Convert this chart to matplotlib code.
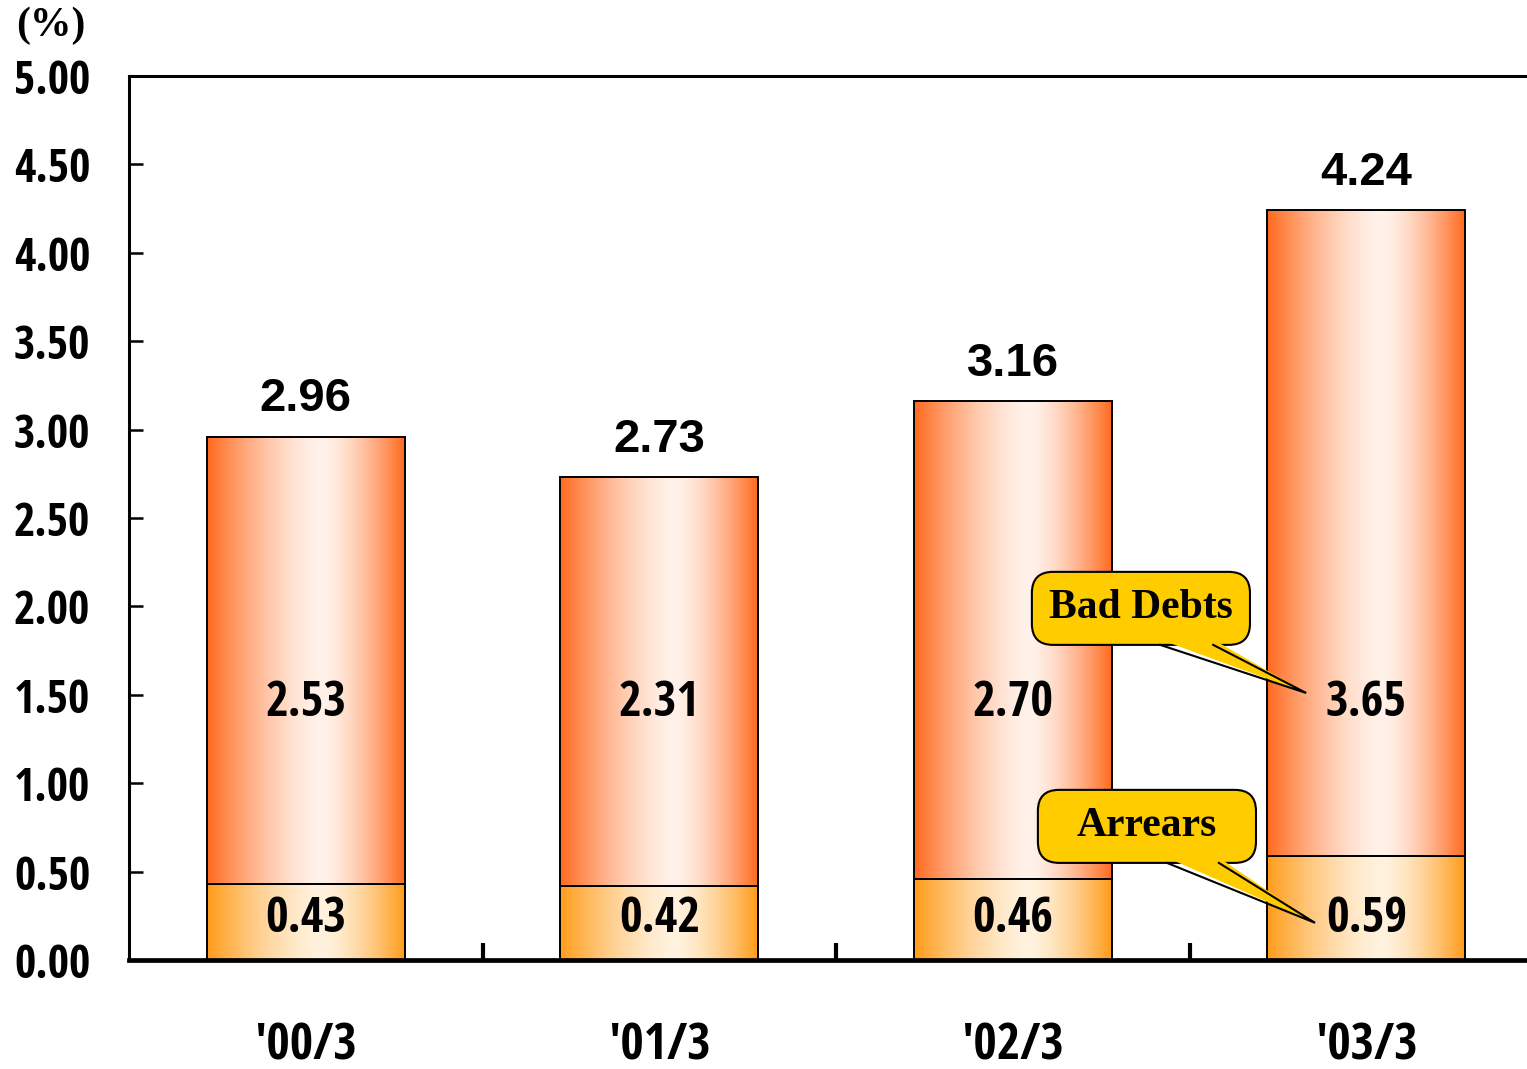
import re
import numpy as np
import matplotlib
matplotlib.use("Agg")
import matplotlib.pyplot as plt
from matplotlib import font_manager as fm
from matplotlib.textpath import TextPath
from matplotlib.patches import FancyBboxPatch, Polygon

# data
periods = ["'00/3", "'01/3", "'02/3", "'03/3"]
arrears = [0.43, 0.42, 0.46, 0.59]
bad_debts = [2.53, 2.31, 2.70, 3.65]
totals = [2.96, 2.73, 3.16, 4.24]
yticks = [0.0, 0.5, 1.0, 1.5, 2.0, 2.5, 3.0, 3.5, 4.0, 4.5, 5.0]

SAFE = re.compile(r"^(DejaVu Sans|Liberation Sans|Noto Sans|Roboto|Open Sans|Lato|Inter)"
                  r"( (Narrow|Condensed|SemiCondensed|ExtraCondensed|Cond|"
                  r"Semi Condensed|Extra Condensed))?$")


def pick_narrow_bold():
    # narrowest bold sans face among the plain families (reference: Arial Narrow Bold)
    best, best_ratio = None, None
    for f in fm.fontManager.ttflist:
        if not SAFE.match(f.name) or f.style != "normal":
            continue
        w = f.weight if isinstance(f.weight, int) else {"bold": 700}.get(f.weight, 400)
        if w < 700:
            continue
        try:
            ext = TextPath((0, 0), "2.53", prop=fm.FontProperties(fname=f.fname),
                           size=10).get_extents()
        except Exception:
            continue
        if ext.height <= 0:
            continue
        ratio = ext.width / ext.height
        if best_ratio is None or ratio < best_ratio:
            best, best_ratio = f.fname, ratio
    return best, best_ratio


narrow_file, narrow_ratio = pick_narrow_bold()
nscale = 1.0 if narrow_ratio is None else min(1.0, max(0.82, 2.1 / narrow_ratio))


def nfont(size):
    if narrow_file:
        return fm.FontProperties(fname=narrow_file, size=size * nscale)
    return fm.FontProperties(family="Liberation Sans", weight="bold", size=size * 0.82)


serif = dict(family="Liberation Serif", weight="bold")
sans = dict(family="Liberation Sans", weight="bold")


def gradient(edge, center, peak=0.58, n=256):
    t = np.linspace(0, 1, n)
    d = np.where(t < peak, (peak - t) / peak, (t - peak) / (1 - peak))
    w = 1 - d ** 1.5
    edge = np.array(matplotlib.colors.to_rgb(edge))
    center = np.array(matplotlib.colors.to_rgb(center))
    return (edge + (center - edge) * w[:, None])[None, :, :]


top_grad = gradient("#FF6A1E", "#FFF2EA")
bot_grad = gradient("#FF9C1A", "#FFF2DE")

fig = plt.figure(figsize=(15.27, 10.69), dpi=100)
ax = fig.add_axes([0.0845, 0.102, 0.926, 0.827])

x = np.arange(len(periods))
width = 0.56
for xi, a, b in zip(x, arrears, bad_debts):
    ax.imshow(bot_grad, extent=(xi - width / 2, xi + width / 2, 0, a),
              aspect="auto", zorder=1, interpolation="bilinear")
    ax.imshow(top_grad, extent=(xi - width / 2, xi + width / 2, a, a + b),
              aspect="auto", zorder=1, interpolation="bilinear")

ax.bar(x, arrears, width, fill=False, edgecolor="black", linewidth=1.4, zorder=2)
ax.bar(x, bad_debts, width, bottom=arrears, fill=False, edgecolor="black",
       linewidth=1.4, zorder=2)

ax.set_xlim(-0.5, 3.5)
ax.set_ylim(0, 5)

# value labels
top_label_y = 1.45
bot_label_y = 0.23
for xi, a, b, t in zip(x, arrears, bad_debts, totals):
    ax.annotate(f"{t:.2f}", (xi, t), xytext=(0, 11), textcoords="offset points",
                ha="center", va="bottom", fontsize=34, **sans, zorder=5)
    ax.text(xi, top_label_y, f"{b:.2f}", ha="center", va="center",
            fontproperties=nfont(36), zorder=5)
    ax.text(xi, bot_label_y, f"{a:.2f}", ha="center", va="center",
            fontproperties=nfont(36), zorder=5)


# callouts (yellow rounded boxes with a pointer)
def callout(text, box, base, tip):
    x0, y0, x1, y1 = box
    ax.add_patch(FancyBboxPatch((x0, y0), x1 - x0, y1 - y0,
                                boxstyle="round,pad=0,rounding_size=0.06",
                                mutation_aspect=2.0, fc="#FFCC00", ec="black",
                                lw=1.5, zorder=6))
    bl, br = base
    ax.add_patch(Polygon([(bl, y0 + 0.03), (br, y0 + 0.03), tip],
                         closed=True, fc="#FFCC00", ec="none", zorder=7))
    ax.plot([bl, tip[0], br], [y0, tip[1], y0], color="black", lw=1.5,
            zorder=8, solid_joinstyle="miter")
    ax.text((x0 + x1) / 2, (y0 + y1) / 2, text, ha="center", va="center",
            fontsize=30, **serif, zorder=9)


callout("Bad Debts", (2.054, 1.782, 2.671, 2.195), (2.417, 2.567),
        (x[3] - 0.17, top_label_y + 0.06))
callout("Arrears", (2.071, 0.549, 2.688, 0.962), (2.436, 2.583),
        (x[3] - 0.145, bot_label_y - 0.02))

# axes styling
ax.spines["right"].set_visible(False)
ax.spines["left"].set_linewidth(2.2)
ax.spines["top"].set_linewidth(2.2)
ax.spines["bottom"].set_linewidth(3.4)
ax.set_yticks(yticks)
ax.set_yticklabels([f"{v:.2f}" for v in yticks], fontproperties=nfont(34))
ax.tick_params(axis="y", direction="in", length=10, width=1.8, pad=28)
ax.set_xticks(x)
ax.set_xticklabels(periods, fontproperties=nfont(37))
ax.tick_params(axis="x", which="major", length=0, pad=44)
ax.set_xticks([0.5, 1.5, 2.5], minor=True)
ax.tick_params(axis="x", which="minor", direction="in", length=12, width=3)

fig.text(0.033, 0.976, "(%)", ha="center", va="center", fontsize=30, **serif)

fig.savefig("out.png", dpi=100, facecolor="white")
